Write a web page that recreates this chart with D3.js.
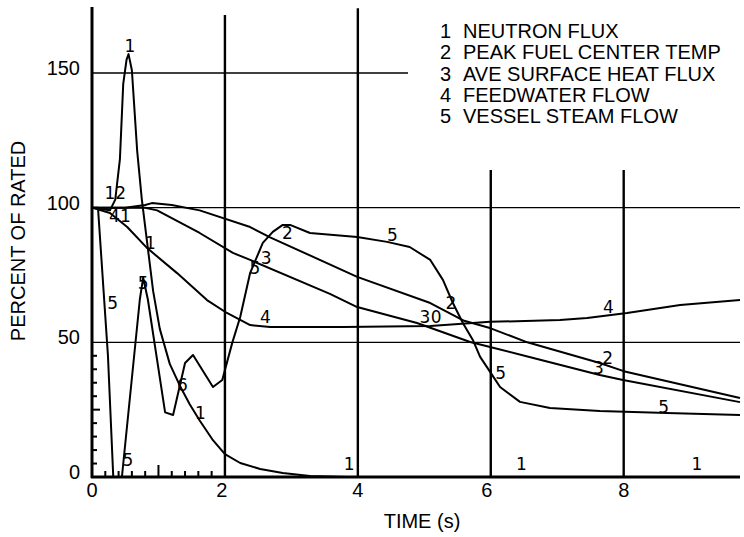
<!DOCTYPE html>
<html>
<head>
<meta charset="utf-8">
<script src="https://cdn.jsdelivr.net/npm/d3@7"></script>
<style>
  body { margin: 0; background: #fff; }
  svg text { font-family: "Liberation Sans", Arial, sans-serif; fill: #000; }
  .curve { fill: none; stroke: #000; stroke-width: 2; stroke-linejoin: round; }
  .mark { font-family: "DejaVu Sans", sans-serif; font-size: 17px; }
</style>
</head>
<body>
<div id="chart"></div>
<script>
// tick labels
var timeTicks = [0, 2, 4, 6, 8];
var pctTicks = [0, 50, 100, 150];
var legendNames = ["NEUTRON FLUX", "PEAK FUEL CENTER TEMP", "AVE SURFACE HEAT FLUX", "FEEDWATER FLOW", "VESSEL STEAM FLOW"];

// 1 neutron flux
var fluxT = [0, 0.27, 0.35, 0.42, 0.47, 0.52, 0.55, 0.6, 0.68, 0.75, 0.84, 0.92, 1.02, 1.17, 1.32, 1.47, 1.62, 1.81, 2.0, 2.23, 2.53, 2.87, 3.28, 3.84, 9.75];
var fluxV = [100, 99, 103, 118, 146, 155, 157, 151, 121, 103, 85, 69, 55, 42, 34, 27, 21, 14, 8.5, 5.2, 3.0, 1.5, 0.4, 0, 0];
// 2 peak fuel center temp
var fuelT = [0, 0.5, 0.8, 0.9, 1.2, 1.62, 2.38, 2.68, 3.99, 5.09, 5.6, 6.0, 6.55, 7.64, 8.0, 9.75];
var fuelV = [100, 100, 101, 101.7, 101, 99, 92.8, 89, 74.3, 64.6, 58, 55.2, 50, 42.3, 39.3, 29.3];
// 3 ave surface heat flux
var heatT = [0, 0.5, 0.8, 0.98, 1.62, 2.12, 2.38, 3.58, 3.99, 4.89, 5.69, 5.99, 6.64, 7.64, 7.99, 9.75];
var heatV = [100, 100, 100, 99, 90.6, 83.2, 80.6, 68, 63.1, 57.2, 50.1, 48.3, 44.2, 37.9, 36, 27.8];
// 4 feedwater flow
var feedT = [0, 0.27, 0.53, 0.83, 1.28, 1.73, 2.03, 2.38, 2.68, 3.78, 5.09, 5.99, 7.04, 7.45, 8.05, 8.85, 9.75];
var feedV = [100, 98, 92.8, 85, 75.7, 65.7, 60.9, 56.4, 55.7, 55.7, 56.1, 57.6, 58.3, 59, 60.9, 63.9, 65.7];
// 5 vessel steam flow
var steamT = [0, 0.09, 0.24, 0.32, 0.45, 0.72, 0.77, 0.84, 1.1, 1.22, 1.4, 1.52, 1.82, 1.96, 2.11, 2.23, 2.38, 2.57, 2.72, 2.87, 2.98, 3.28, 3.99, 4.44, 4.78, 5.09, 5.28, 5.43, 5.58, 5.73, 5.84, 6.02, 6.14, 6.44, 6.89, 7.64, 8.65, 9.75];
var steamV = [100, 100, 45, 0, 0, 66, 74, 66, 24, 23, 42.3, 45.3, 33.4, 36, 49.8, 59.4, 75.8, 86.9, 91, 93.6, 93.6, 90.6, 89.1, 87.3, 85.4, 80.6, 73.2, 64.6, 57.2, 50.9, 44.6, 37.9, 33.4, 27.9, 25.6, 24.5, 23.8, 23];

// hand written curve numbers on the plot
var markText = ["1", "12", "41", "1", "5", "5", "5", "6", "1", "5", "3", "2", "4", "5", "3", "0", "2", "5", "4", "3", "2", "5", "1", "1", "1"];
var markT = [0.57, 0.35, 0.42, 0.88, 0.77, 0.31, 0.54, 1.36, 1.63, 2.45, 2.62, 2.94, 2.61, 4.52, 5.01, 5.18, 5.4, 6.15, 7.77, 7.62, 7.76, 8.6, 3.87, 6.46, 9.1];
var markV = [160, 105.5, 97, 87, 72, 64.6, 6.3, 34, 23.8, 77.6, 81.3, 90.6, 59.4, 89.9, 59.4, 59.4, 64.6, 38.6, 63.1, 40.5, 44.2, 26, 5, 5, 5];

var width = 744, height = 537;
var svg = d3.select("#chart").append("svg")
    .attr("width", width)
    .attr("height", height);

var x = d3.scaleLinear().domain([0, 9.75]).range([92, 740]);
var y = d3.scaleLinear().domain([0, 150]).range([477, 73]);

//grid lines
svg.append("line").attr("x1", x(0)).attr("x2", 408).attr("y1", y(150)).attr("y2", y(150))
    .attr("stroke", "#000").attr("stroke-width", 1.4);
[100, 50].forEach(function(v) {
  svg.append("line").attr("x1", x(0)).attr("x2", x(9.75)).attr("y1", y(v)).attr("y2", y(v))
      .attr("stroke", "#000").attr("stroke-width", 1.4);
});
var vTops = {2: 171.5, 4: 174, 6: 114, 8: 114};
timeTicks.slice(1).forEach(function(t) {
  svg.append("line").attr("x1", x(t)).attr("x2", x(t)).attr("y1", y(vTops[t])).attr("y2", y(0))
      .attr("stroke", "#000").attr("stroke-width", 2.4);
});

// axes
svg.append("line").attr("x1", x(0)).attr("x2", x(0)).attr("y1", y(174.5)).attr("y2", y(0) + 1)
    .attr("stroke", "#000").attr("stroke-width", 3);
svg.append("line").attr("x1", x(0) - 1).attr("x2", x(9.75)).attr("y1", y(0)).attr("y2", y(0))
    .attr("stroke", "#000").attr("stroke-width", 3);

// little ticks
d3.range(1, 10).forEach(function(i) {
  var t = i * 0.2;
  svg.append("line").attr("x1", x(t)).attr("x2", x(t)).attr("y1", y(0)).attr("y2", y(0) - (i === 5 ? 12 : 6))
      .attr("stroke", "#000").attr("stroke-width", 2);
  var v = i * 5;
  svg.append("line").attr("x1", x(0)).attr("x2", x(0) + (i === 5 ? 8 : 5)).attr("y1", y(v)).attr("y2", y(v))
      .attr("stroke", "#000").attr("stroke-width", 2);
});

// tick labels
svg.selectAll("text.xt").data(timeTicks).enter().append("text")
    .attr("class", "xt")
    .attr("x", function(d) { return x(d) - (d === 2 ? 3 : d === 6 ? 4 : 0); })
    .attr("y", 497)
    .attr("text-anchor", "middle")
    .style("font-size", "20px")
    .text(function(d) { return d; });

svg.selectAll("text.yt").data(pctTicks).enter().append("text")
    .attr("class", "yt")
    .attr("x", 80)
    .attr("y", function(d) { return y(d) + 2; })
    .attr("text-anchor", "end")
    .style("font-size", "20px")
    .text(function(d) { return d; });

svg.append("text").attr("x", 422).attr("y", 528).attr("text-anchor", "middle")
    .style("font-size", "20px").text("TIME (s)");
svg.append("text").attr("transform", "translate(25,241) rotate(-90)").attr("text-anchor", "middle")
    .style("font-size", "20px").text("PERCENT OF RATED");

// legend
var legend = svg.append("g");
legendNames.forEach(function(name, i) {
  legend.append("text").attr("x", 440).attr("y", 38 + i * 21.3).style("font-size", "20px").text(i + 1);
  legend.append("text").attr("x", 463).attr("y", 38 + i * 21.3).style("font-size", "20px").text(name);
});

// curves
var line = d3.line()
    .x(function(d) { return x(d[0]); })
    .y(function(d) { return y(d[1]); });

[[fluxT, fluxV], [fuelT, fuelV], [heatT, heatV], [feedT, feedV], [steamT, steamV]].forEach(function(s) {
  svg.append("path")
      .attr("class", "curve")
      .attr("d", line(d3.zip(s[0], s[1])));
});

svg.selectAll("text.mark").data(markText).enter().append("text")
    .attr("class", "mark")
    .attr("x", function(d, i) { return x(markT[i]); })
    .attr("y", function(d, i) { return y(markV[i]) + 6; })
    .attr("text-anchor", "middle")
    .text(function(d) { return d; });
</script>
</body>
</html>
